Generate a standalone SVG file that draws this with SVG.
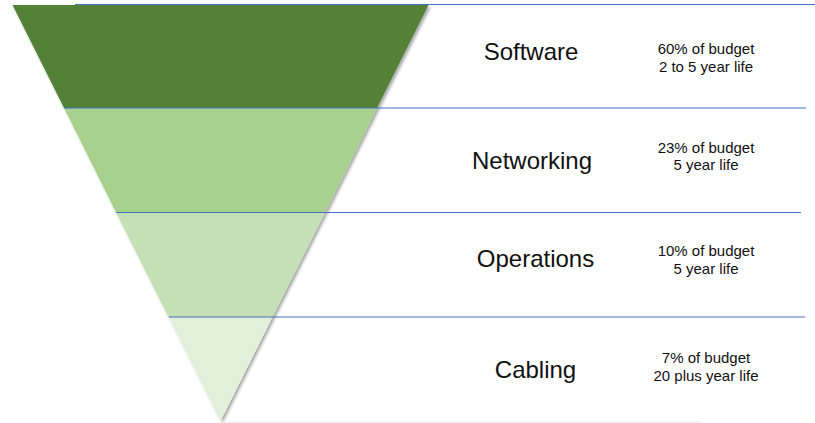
<svg xmlns="http://www.w3.org/2000/svg" width="815" height="423" viewBox="0 0 815 423">
<defs>
<filter id="sh" x="-10%" y="-10%" width="130%" height="130%">
<feDropShadow dx="2" dy="2" stdDeviation="1.5" flood-color="#000" flood-opacity="0.35"/>
</filter>
<style>
.big{font-family:"Liberation Sans",Arial,sans-serif;font-size:24px;fill:#111;text-anchor:middle}
.sm{font-family:"Liberation Sans",Arial,sans-serif;font-size:15px;fill:#111;text-anchor:middle}
.rule{stroke:#4472C4;stroke-width:1.2;fill:none}
</style>
</defs>
<rect width="815" height="423" fill="#fff"/>
<g id="band-software" filter="url(#sh)"><polygon points="12.5,5 428.5,5 377,108 64,108" fill="#538135"/></g>
<g id="band-networking" filter="url(#sh)"><polygon points="64,108 377,108 325,212.5 116,212.5" fill="#A9D18E"/></g>
<g id="band-operations" filter="url(#sh)"><polygon points="116,212.5 325,212.5 272.5,317 168.5,317" fill="#C5E0B4"/></g>
<g id="band-cabling" filter="url(#sh)"><polygon points="168.5,317 272.5,317 220.5,421" fill="#E2EFDA"/></g>
<g id="connectors">
<line class="rule" x1="75" y1="4.5" x2="815" y2="4.5"/>
<line class="rule" x1="64" y1="108" x2="806" y2="108"/>
<line class="rule" x1="116" y1="212.5" x2="801" y2="212.5"/>
<line class="rule" x1="169" y1="317" x2="805" y2="317"/>
<line x1="221" y1="422" x2="700" y2="422" stroke="#E4E4F2" stroke-width="1"/>
</g>
<g id="label-software"><text class="big" x="531" y="60">Software</text><text class="sm" x="706" y="54">60% of budget</text><text class="sm" x="706" y="72">2 to 5 year life</text></g>
<g id="label-networking"><text class="big" x="532" y="169">Networking</text><text class="sm" x="706" y="153">23% of budget</text><text class="sm" x="706" y="170">5 year life</text></g>
<g id="label-operations"><text class="big" x="535.5" y="267">Operations</text><text class="sm" x="706" y="256">10% of budget</text><text class="sm" x="706" y="274">5 year life</text></g>
<g id="label-cabling"><text class="big" x="535.5" y="378">Cabling</text><text class="sm" x="706" y="363">7% of budget</text><text class="sm" x="706" y="381">20 plus year life</text></g>
</svg>
